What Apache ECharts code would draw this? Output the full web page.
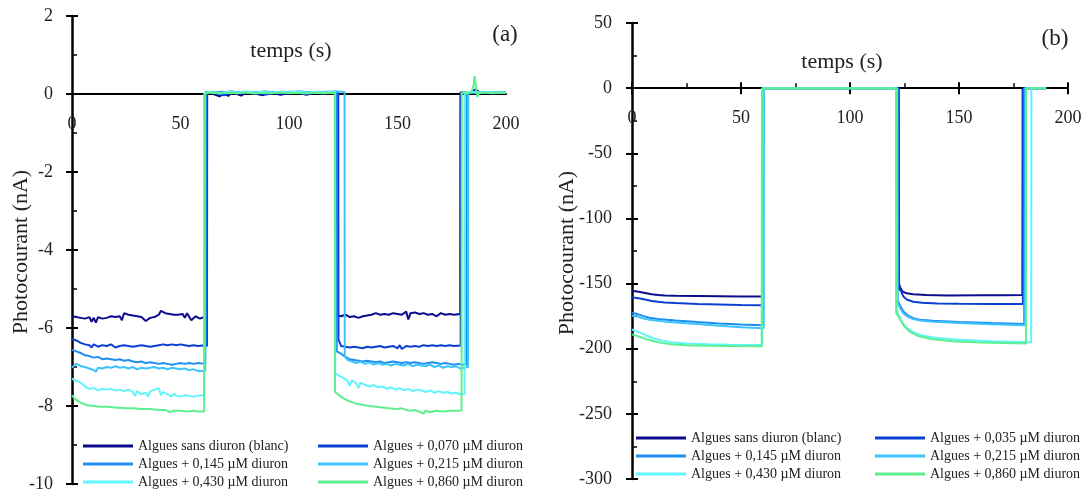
<!DOCTYPE html>
<html><head><meta charset="utf-8">
<script src="https://cdn.jsdelivr.net/npm/echarts@6/dist/echarts.min.js"></script>
<style>html,body{margin:0;padding:0;background:#fff}#c{width:1088px;height:492px}</style>
</head><body><div id="c"></div>
<script>
// ---------- names / colours ----------
const namesA = ['Algues sans diuron (blanc)','Algues + 0,070 µM diuron','Algues + 0,145 µM diuron','Algues + 0,215 µM diuron','Algues + 0,430 µM diuron','Algues + 0,860 µM diuron'];
const namesB = ['Algues sans diuron (blanc)','Algues + 0,035 µM diuron','Algues + 0,145 µM diuron','Algues + 0,215 µM diuron','Algues + 0,430 µM diuron','Algues + 0,860 µM diuron'];
const colors = ['#0c0c8e','#0b3fd4','#1e8ff0','#3cc3fb','#62f4fb','#5cf08e'];
const yTicksA = [-10,-8,-6,-4,-2,0,2];
const yTicksB = [-300,-250,-200,-150,-100,-50,0,50];
const xTicks = [0,50,100,150,200];

// ---------- panel (a) : [temps (s), photocourant (nA)] ----------
const A_blanc = [[0,-5.70],[2,-5.72],[4,-5.74],[6,-5.76],[8,-5.72],[9,-5.84],[10,-5.74],[11,-5.86],[12,-5.72],[14,-5.76],[16,-5.74],[18,-5.70],[20,-5.72],[22,-5.70],[23,-5.80],[24,-5.62],[26,-5.66],[28,-5.68],[30,-5.70],[32,-5.72],[34,-5.82],[36,-5.74],[38,-5.72],[40,-5.66],[41,-5.56],[43,-5.62],[45,-5.64],[47,-5.66],[49,-5.66],[51,-5.64],[52,-5.74],[53,-5.62],[55,-5.80],[57,-5.70],[59,-5.76],[61.9,-5.70],
 [62,0.05],[64,0.03],[66,-0.02],[68,-0.06],[70,0.01],[72,-0.05],[74,0.06],[76,0.00],[78,-0.04],[80,0.03],[84,0.01],[88,-0.03],[92,0.04],[96,-0.02],[100,0.02],[104,0.04],[108,-0.02],[112,0.03],[116,0.01],[121.9,0.04],
 [122,-5.68],[124,-5.70],[126,-5.66],[128,-5.72],[130,-5.70],[132,-5.74],[134,-5.70],[136,-5.68],[138,-5.66],[140,-5.62],[142,-5.66],[144,-5.64],[146,-5.66],[148,-5.62],[150,-5.64],[152,-5.66],[154,-5.58],[155,-5.78],[156,-5.62],[158,-5.60],[160,-5.64],[162,-5.62],[164,-5.66],[166,-5.64],[168,-5.70],[170,-5.62],[172,-5.66],[174,-5.64],[176,-5.66],[178.9,-5.64],
 [179,0.04],[182,0.02],[184,0.05],[186,0.12],[188,0.03],[192,0.05],[196,0.02],[200,0.03]];
const A_070 = [[0,-6.28],[2,-6.32],[4,-6.38],[6,-6.42],[8,-6.44],[9,-6.50],[10,-6.42],[12,-6.48],[14,-6.44],[16,-6.46],[18,-6.42],[20,-6.50],[22,-6.46],[24,-6.44],[26,-6.46],[28,-6.48],[30,-6.46],[32,-6.44],[34,-6.46],[36,-6.48],[38,-6.46],[40,-6.44],[42,-6.42],[44,-6.44],[46,-6.42],[48,-6.44],[50,-6.42],[52,-6.44],[54,-6.46],[56,-6.44],[58,-6.46],[60,-6.45],[62.2,-6.46],
 [62.3,0.04],[66,0.02],[70,-0.03],[74,0.03],[78,0.01],[82,0.04],[86,0.02],[90,-0.01],[94,0.03],[98,0.02],[102,0.04],[106,0.01],[110,0.03],[114,0.02],[118,0.04],[122.7,0.03],
 [122.8,-6.30],[123.5,-6.32],[124,-6.46],[126,-6.48],[128,-6.50],[130,-6.48],[132,-6.50],[134,-6.52],[136,-6.48],[138,-6.50],[140,-6.48],[142,-6.46],[144,-6.50],[146,-6.48],[148,-6.46],[150,-6.52],[151,-6.44],[152,-6.54],[154,-6.46],[156,-6.48],[158,-6.46],[160,-6.48],[162,-6.44],[164,-6.46],[166,-6.44],[168,-6.46],[170,-6.44],[172,-6.46],[174,-6.44],[176,-6.46],[179.1,-6.45],
 [179.2,0.03],[182,0.04],[185,0.02],[188,0.04],[192,0.02],[196,0.03],[200,0.03]];
const A_145 = [[0,-6.56],[2,-6.60],[4,-6.64],[6,-6.70],[8,-6.72],[10,-6.76],[12,-6.74],[14,-6.80],[16,-6.78],[18,-6.80],[20,-6.82],[22,-6.80],[24,-6.84],[26,-6.82],[28,-6.86],[30,-6.88],[32,-6.86],[34,-6.90],[36,-6.88],[38,-6.90],[40,-6.92],[42,-6.90],[44,-6.92],[46,-6.94],[48,-6.92],[50,-6.90],[52,-6.92],[54,-6.90],[56,-6.92],[58,-6.90],[61.4,-6.92],
 [61.5,0.05],[65,0.03],[69,0.06],[73,0.02],[77,0.05],[81,0.03],[85,0.06],[89,0.02],[93,0.05],[97,0.04],[101,0.06],[105,0.03],[109,0.05],[113,0.04],[117,0.06],[121.9,0.04],
 [122,-6.60],[124,-6.66],[126,-6.74],[128,-6.80],[130,-6.82],[132,-6.84],[134,-6.86],[136,-6.84],[138,-6.86],[140,-6.88],[142,-6.86],[144,-6.90],[146,-6.88],[148,-6.86],[150,-6.88],[152,-6.90],[154,-6.88],[156,-6.90],[158,-6.88],[160,-6.90],[162,-6.92],[164,-6.90],[166,-6.88],[168,-6.90],[170,-6.92],[172,-6.90],[174,-6.92],[176,-6.94],[178,-6.92],[180,-6.94],[181.7,-6.94],
 [181.8,0.04],[185,0.03],[188,0.05],[192,0.03],[196,0.04],[200,0.04]];
const A_215 = [[0,-7.02],[1,-6.96],[2,-6.92],[4,-6.98],[6,-7.00],[8,-7.04],[10,-7.08],[11,-7.12],[12,-7.02],[14,-7.04],[16,-7.00],[18,-7.02],[20,-6.98],[22,-7.02],[24,-7.00],[26,-7.04],[28,-7.00],[30,-7.06],[32,-7.02],[34,-7.04],[36,-7.02],[38,-7.00],[40,-7.04],[42,-7.02],[44,-7.06],[46,-7.02],[48,-7.04],[50,-7.06],[52,-7.04],[54,-7.08],[56,-7.06],[58,-7.10],[61.4,-7.10],
 [61.5,0.04],[65,0.06],[69,0.03],[73,0.07],[77,0.04],[81,0.06],[85,0.03],[89,0.07],[93,0.04],[97,0.06],[101,0.05],[105,0.07],[109,0.04],[113,0.06],[117,0.05],[121,0.07],[125.6,0.05],
 [125.7,-6.72],[127,-6.82],[129,-6.86],[131,-6.90],[133,-6.86],[135,-6.92],[137,-6.88],[139,-6.94],[141,-6.90],[143,-6.94],[145,-6.92],[147,-6.96],[149,-6.92],[151,-6.94],[153,-6.96],[155,-6.92],[157,-6.98],[159,-6.94],[161,-6.96],[163,-6.98],[165,-6.94],[167,-7.00],[169,-6.96],[171,-7.02],[173,-6.98],[175,-7.00],[177,-6.98],[179,-7.04],[182.5,-7.00],
 [182.6,0.05],[186,0.04],[190,0.06],[194,0.03],[198,0.05],[200,0.04]];
const A_430 = [[0,-7.30],[2,-7.36],[4,-7.40],[6,-7.50],[8,-7.56],[10,-7.54],[12,-7.60],[14,-7.56],[16,-7.58],[18,-7.56],[20,-7.60],[22,-7.58],[24,-7.62],[26,-7.58],[28,-7.64],[29,-7.74],[30,-7.62],[32,-7.70],[34,-7.66],[35,-7.76],[36,-7.62],[38,-7.58],[40,-7.54],[41,-7.72],[42,-7.64],[44,-7.70],[46,-7.76],[47,-7.68],[48,-7.74],[50,-7.76],[52,-7.72],[54,-7.74],[56,-7.76],[58,-7.74],[60.9,-7.72],
 [61,0.03],[64,0.06],[68,0.02],[72,0.05],[76,0.03],[80,0.07],[84,0.04],[88,0.06],[92,0.03],[96,0.05],[100,0.04],[104,0.06],[108,0.03],[112,0.05],[116,0.04],[121.2,0.05],
 [121.3,-7.16],[123,-7.22],[125,-7.28],[127,-7.36],[128,-7.48],[129,-7.34],[131,-7.42],[132,-7.54],[133,-7.40],[135,-7.46],[137,-7.50],[139,-7.46],[141,-7.52],[143,-7.50],[145,-7.56],[147,-7.52],[149,-7.58],[151,-7.54],[153,-7.60],[155,-7.56],[157,-7.62],[159,-7.58],[161,-7.60],[163,-7.64],[165,-7.60],[167,-7.66],[169,-7.62],[171,-7.66],[173,-7.64],[175,-7.68],[177,-7.66],[179,-7.70],[180.9,-7.70],
 [181,0.04],[184,0.06],[188,0.03],[192,0.05],[196,0.03],[200,0.04]];
const A_860 = [[0,-7.72],[1,-7.80],[3,-7.88],[5,-7.94],[7,-7.98],[10,-8.00],[13,-8.02],[16,-8.02],[20,-8.04],[24,-8.06],[28,-8.06],[32,-8.08],[36,-8.08],[40,-8.10],[43,-8.10],[45,-8.16],[47,-8.12],[50,-8.12],[53,-8.14],[56,-8.12],[58,-8.14],[60.9,-8.14],
 [61,0.02],[64,0.04],[68,0.01],[72,0.03],[76,0.02],[80,0.04],[84,0.01],[88,0.03],[92,0.02],[96,0.04],[100,0.02],[104,0.03],[108,0.01],[112,0.03],[116,0.02],[121.1,0.03],
 [121.2,-7.64],[123,-7.72],[125,-7.80],[127,-7.86],[129,-7.90],[131,-7.94],[133,-7.96],[135,-7.98],[137,-8.00],[140,-8.02],[143,-8.04],[146,-8.06],[149,-8.08],[152,-8.06],[154,-8.10],[156,-8.12],[158,-8.10],[160,-8.14],[162,-8.20],[163,-8.12],[165,-8.16],[168,-8.12],[171,-8.14],[174,-8.12],[177,-8.12],[179.5,-8.12],
 [179.6,0.03],[182,0.02],[184,0.04],[185,0.20],[185.6,0.46],[186.2,0.15],[186.8,-0.08],[187.5,0.02],[190,0.04],[194,0.02],[197,0.03],[200,0.03]];

// ---------- panel (b) ----------
const B_blanc = [[0,-155.6],[3,-156.2],[6,-157.2],[9,-158.2],[12,-158.8],[15,-159.1],[20,-159.3],[30,-159.5],[40,-159.7],[50,-159.9],[59.9,-160],
 [60,0],[122.2,0],
 [122.3,-149],[123,-153],[124,-156],[126,-157.5],[129,-158.2],[135,-158.8],[145,-159.1],[160,-159],[170,-158.9],[179.1,-158.8],
 [179.2,0],[190,0]];
const B_035 = [[0,-160.6],[3,-161.2],[6,-162.3],[9,-163.3],[12,-164],[15,-164.5],[20,-165],[30,-165.6],[40,-166],[50,-166.4],[59.9,-166.7],
 [60,0],[122.4,0],
 [122.5,-154],[123.5,-156],[124.5,-160],[126,-162.2],[129,-164],[133,-164.8],[140,-165.3],[150,-165.5],[165,-165.6],[179.3,-165.6],
 [179.4,0],[190,0]];
const B_145 = [[0,-172.3],[2,-173.2],[5,-174.8],[8,-176.2],[12,-177.2],[16,-177.8],[20,-178.3],[30,-179.5],[40,-180.6],[50,-181.4],[60.2,-182],
 [60.3,0],[121.7,0],
 [121.8,-163],[123,-167],[124.5,-171.5],[126.5,-174.5],[129,-176.5],[132,-177.8],[138,-178.6],[150,-179.5],[165,-180.3],[179.9,-181],
 [180,0],[190,0]];
const B_215 = [[0,-174.5],[2,-175.2],[5,-176.6],[8,-177.8],[12,-178.6],[16,-179.3],[20,-179.8],[30,-181],[40,-182.3],[50,-183.5],[60.4,-184.3],
 [60.5,0],[121.7,0],
 [121.8,-164.5],[123,-169],[124.5,-173],[126.5,-175.5],[129,-177.2],[132,-178.4],[138,-179.3],[150,-180.3],[165,-181.2],[180.4,-182],
 [180.5,0],[190,0]];
const B_430 = [[0,-185.3],[2,-186.5],[5,-188.6],[8,-190.8],[11,-192.6],[14,-193.8],[18,-195],[25,-196],[35,-196.6],[45,-196.9],[59.7,-197.2],
 [59.8,0],[121.3,0],
 [121.4,-170],[122.5,-175],[124,-180],[126,-184],[129,-187.3],[133,-189.8],[140,-191.8],[150,-193.2],[165,-194.3],[183.1,-195],
 [183.2,0],[190,0]];
const B_860 = [[0,-189],[2,-190],[5,-191.8],[8,-193.3],[11,-194.6],[14,-195.6],[18,-196.5],[25,-197.3],[35,-197.8],[45,-198],[59.5,-198.2],
 [59.6,0],[121.1,0],
 [121.2,-172.5],[122.3,-175.5],[123.5,-179],[125,-183],[127.5,-187],[131,-190],[137,-192.5],[147,-194.3],[160,-195.3],[180.7,-196],
 [180.8,0],[190,0]];

const dataA = [A_blanc, A_070, A_145, A_215, A_430, A_860];
const dataB = [B_blanc, B_035, B_145, B_215, B_430, B_860];

// ---------- chart ----------
const FONT = 'Liberation Serif';
const chart = echarts.init(document.getElementById('c'), null, {renderer:'canvas'});

const GA = {left:72, top:16, width:434, height:468};
const GB = {left:632, top:23, width:436, height:456};

function mainX(gi, ticks){
  return {type:'value', gridIndex:gi, min:0, max:200, interval:50, position:'bottom',
    axisLine:{onZero:true, lineStyle:{color:'#000', width:2}},
    axisTick:{show:ticks, inside:true, length:6, lineStyle:{color:'#000', width:2}},
    minorTick:{show:ticks, splitNumber:2, length:5, lineStyle:{color:'#000', width:1.5}},
    splitLine:{show:false}, minorSplitLine:{show:false},
    axisLabel:{show:false}};
}
function tickX(gi){
  return {type:'value', gridIndex:gi, min:0, max:200, interval:50, position:'bottom',
    axisLine:{show:false, onZero:true}, axisLabel:{show:false}, splitLine:{show:false},
    axisTick:{show:true, inside:false, length:6, lineStyle:{color:'#000', width:2}}};
}
// label-only x axis moved up onto the zero line
function labelX(gi, offset){
  return {type:'value', gridIndex:gi, min:0, max:200, interval:50, position:'bottom', offset:offset,
    axisLine:{show:false, onZero:false}, axisTick:{show:false}, splitLine:{show:false},
    axisLabel:{show:true, margin:21, color:'#222', fontFamily:FONT, fontSize:18, showMinLabel:true, showMaxLabel:true}};
}
function mainY(gi, min, max, iv, margin){
  return {type:'value', gridIndex:gi, min:min, max:max, interval:iv, position:'left',
    axisLine:{show:true, onZero:true, lineStyle:{color:'#000', width:2.5}},
    axisTick:{show:true, inside:true, length:6, lineStyle:{color:'#000', width:2}},
    minorTick:{show:true, splitNumber:2, length:5, lineStyle:{color:'#000', width:1.5}},
    splitLine:{show:false}, minorSplitLine:{show:false},
    axisLabel:{margin:margin, color:'#222', fontFamily:FONT, fontSize:18}};
}
function tickY(gi, min, max, iv){
  return {type:'value', gridIndex:gi, min:min, max:max, interval:iv, position:'left',
    axisLine:{show:false, onZero:true}, axisLabel:{show:false}, splitLine:{show:false},
    axisTick:{show:true, inside:false, length:6, lineStyle:{color:'#000', width:2}}};
}

const series = [];
dataA.forEach((d,i)=>series.push({type:'line', name:namesA[i], xAxisIndex:0, yAxisIndex:0, data:d,
  symbol:'none', lineStyle:{color:colors[i], width:2}, itemStyle:{color:colors[i]}, z:2+i}));
dataB.forEach((d,i)=>series.push({type:'line', name:namesB[i], xAxisIndex:1, yAxisIndex:2, data:d,
  symbol:'none', lineStyle:{color:colors[i], width:2}, itemStyle:{color:colors[i]}, z:2+i}));

function legend(left, top, names){
  return {orient:'vertical', left:left, top:top, data:names, icon:'rect', itemWidth:50, itemHeight:3,
    itemGap:2, selectedMode:false, padding:0,
    textStyle:{fontFamily:FONT, fontSize:14, color:'#222', lineHeight:16}};
}

// zero-line offsets (distance from grid bottom up to value 0)
const offA = -(GA.height * (0 - (-10)) / (2 - (-10)));
const offB = -(GB.height * (0 - (-300)) / (50 - (-300)));

const option = {
  animation:false,
  textStyle:{fontFamily:FONT},
  grid:[
    Object.assign({containLabel:false, outerBoundsMode:'none'}, GA),
    Object.assign({containLabel:false, outerBoundsMode:'none'}, GB)
  ],
  xAxis:[mainX(0,false), mainX(1,true), tickX(1), labelX(0, offA), labelX(1, offB)],
  yAxis:[mainY(0,-10,2,2,19), tickY(0,-10,2,2), mainY(1,-300,50,50,20), tickY(1,-300,50,50)],
  legend:[
    legend(83, 438, [namesA[0],namesA[2],namesA[4]]),
    legend(318, 438, [namesA[1],namesA[3],namesA[5]]),
    legend(636, 430, [namesB[0],namesB[2],namesB[4]]),
    legend(875, 430, [namesB[1],namesB[3],namesB[5]])
  ],
  graphic:[
    {type:'text', x:291, y:51, style:{text:'temps (s)', font:'22px "Liberation Serif"', fill:'#222', textAlign:'center', textVerticalAlign:'middle'}},
    {type:'text', x:842, y:62, style:{text:'temps (s)', font:'22px "Liberation Serif"', fill:'#222', textAlign:'center', textVerticalAlign:'middle'}},
    {type:'text', x:505, y:35, style:{text:'(a)', font:'23px "Liberation Serif"', fill:'#222', textAlign:'center', textVerticalAlign:'middle'}},
    {type:'text', x:1055, y:39, style:{text:'(b)', font:'23px "Liberation Serif"', fill:'#222', textAlign:'center', textVerticalAlign:'middle'}},
    {type:'text', x:21, y:252, rotation:Math.PI/2, style:{text:'Photocourant (nA)', font:'22px "Liberation Serif"', fill:'#222', textAlign:'center', textVerticalAlign:'middle'}},
    {type:'text', x:567, y:253, rotation:Math.PI/2, style:{text:'Photocourant (nA)', font:'22px "Liberation Serif"', fill:'#222', textAlign:'center', textVerticalAlign:'middle'}}
  ],
  series:series
};
chart.setOption(option);
</script></body></html>
